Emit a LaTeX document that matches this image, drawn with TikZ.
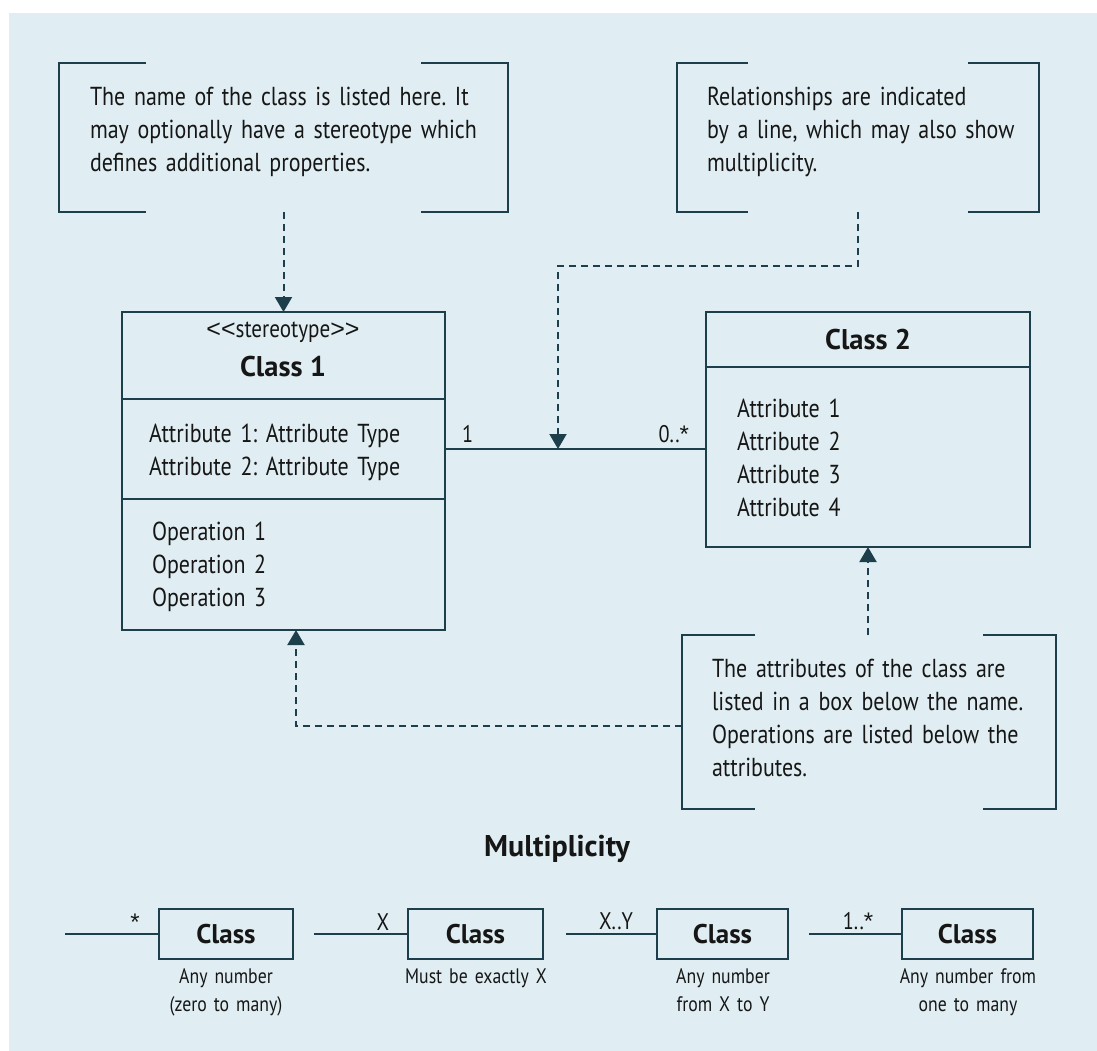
\documentclass[tikz,border=0pt]{standalone}
\usepackage{fontspec}
\setmainfont{PT Sans}[FakeStretch=0.845,BoldFeatures={FakeStretch=1.0}]
\newfontfamily\symfont{Liberation Sans}
\usetikzlibrary{arrows.meta,calc}
\definecolor{bg}{HTML}{E0EEF3}
\definecolor{ln}{HTML}{1C3F4B}
\definecolor{tx}{HTML}{161616}
\newcommand\myast{{\symfont *}}
\newcommand\mylt{{\symfont <}}
\newcommand\mygt{{\symfont >}}
\newcommand\mybrackets[2]{%
  \draw[brk] ($(#1.north west)+(#2,0)$) -- (#1.north west) -- (#1.south west) -- ($(#1.south west)+(#2,0)$);
  \draw[brk] ($(#1.north east)-(#2,0)$) -- (#1.north east) -- (#1.south east) -- ($(#1.south east)-(#2,0)$);}
\frenchspacing
\begin{document}
\begin{tikzpicture}[x=1bp,y=-1bp,
  every node/.style={inner sep=0pt,outer sep=0pt,text=tx},
  brk/.style={draw=ln,line width=2bp},
  clsbox/.style={draw=ln,line width=2.5bp},
  cl/.style={draw=ln,line width=2bp},
  dar/.style={draw=ln,line width=2bp,dash pattern=on 7bp off 5bp,-{Triangle[width=17bp,length=15bp]}},
  note/.style={draw=none},
  body/.style={font=\fontsize{26bp}{33bp}\selectfont,align=left,anchor=base west,text width=#1},
  title/.style={font=\bfseries\fontsize{28.5bp}{34bp}\selectfont,anchor=base},
  lbl/.style={font=\fontsize{24bp}{28bp}\selectfont},
  slbl/.style={font=\fontsize{24bp}{28bp}\selectfont,anchor=base},
  mbox/.style={draw=ln,line width=2.2bp,minimum height=50bp,font=\bfseries\fontsize{27bp}{30bp}\selectfont},
  capt/.style={font=\fontsize{21bp}{28bp}\selectfont,align=center,text width=200bp,anchor=base},
]
\fill[bg] (9,13) rectangle (1097,1051);
\useasboundingbox (0,0) rectangle (1097,1051);

% note boxes
\node[note,minimum width=449bp,minimum height=149bp] (n1) at (283.5,137.5) {};
\mybrackets{n1}{87}
\node[body=420bp] (t1) at (90,105) {The name of the class is listed here. It\\may optionally have a stereotype which\\defines additional properties.};

\node[note,minimum width=362bp,minimum height=149bp] (n2) at (858,137.5) {};
\mybrackets{n2}{71}
\node[body=330bp] (t2) at (707,105) {Relationships are indicated\\by a line, which may also show\\multiplicity.};

\node[note,minimum width=374bp,minimum height=174bp] (n3) at (869,722) {};
\mybrackets{n3}{73}
\node[body=340bp] (t3) at (712,677) {The attributes of the class are\\listed in a box below the name.\\Operations are listed below the\\attributes.};

% class 1
\node[clsbox,minimum width=323bp,minimum height=318bp] (c1) at (283.5,471) {};
\draw[cl] ($(c1.north west)+(0,87)$) -- ($(c1.north east)+(0,87)$);
\draw[cl] ($(c1.north west)+(0,187)$) -- ($(c1.north east)+(0,187)$);
\node[font=\fontsize{25bp}{30bp}\selectfont,anchor=base] (st) at (283,337) {\mylt\mylt stereotype\mygt\mygt};
\node[title] (c1t) at (283,376) {Class 1};
\node[body=300bp] (c1a) at (149,442) {Attribute 1: Attribute Type\\Attribute 2: Attribute Type};
\node[body=300bp] (c1o) at (152,540) {Operation 1\\Operation 2\\Operation 3};

% class 2
\node[clsbox,minimum width=324bp,minimum height=235bp] (c2) at (868,429.5) {};
\draw[cl] ($(c2.north west)+(0,55)$) -- ($(c2.north east)+(0,55)$);
\node[title] (c2t) at (868,349) {Class 2};
\node[body=250bp] (c2a) at (737,417) {Attribute 1\\Attribute 2\\Attribute 3\\Attribute 4};

% association
\coordinate (m) at (558,449);
\draw[cl] (c1.east |- m) -- (c2.west |- m);
\node[lbl,anchor=base west] (one) at (462,442) {1};
\node[lbl,anchor=base east] (zm) at (689,442) {0..\myast};

% dashed arrows
\draw[dar] (n1.south) -- (c1.north);
\coordinate (j2) at (558,266);
\draw[dar] (n2.south) |- (j2) -- (m);
\draw[dar] (c2.south |- n3.north) -- (c2.south);
\coordinate (j4) at (296,726);
\draw[dar] (n3.west |- j4) -- (j4) -- (j4 |- c1.south);

% multiplicity
\node[font=\bfseries\fontsize{30bp}{36bp}\selectfont,anchor=base] (mt) at (557,856) {Multiplicity};

\node[mbox,minimum width=134bp] (mb1) at (226,934) {Class};
\node[mbox,minimum width=135bp] (mb2) at (475.5,934) {Class};
\node[mbox,minimum width=131bp] (mb3) at (722.5,934) {Class};
\node[mbox,minimum width=131bp] (mb4) at (967.5,934) {Class};

\coordinate (l1) at (65,934);
\coordinate (l2) at (314,934);
\coordinate (l3) at (566,934);
\coordinate (l4) at (809,934);
\draw[cl] (l1) -- (mb1.west);
\draw[cl] (l2) -- (mb2.west);
\draw[cl] (l3) -- (mb3.west);
\draw[cl] (l4) -- (mb4.west);

\node[slbl] (s1) at (135,930) {\myast};
\node[slbl] (s2) at (383,930) {X};
\node[slbl] (s3) at (616,929) {X..Y};
\node[slbl] (s4) at (858,929) {1..\myast};

\node[capt] (cp1) at (226,983) {Any number\\(zero to many)};
\node[capt] (cp2) at (476,983) {Must be exactly X};
\node[capt] (cp3) at (723,983) {Any number\\from X to Y};
\node[capt] (cp4) at (968,983) {Any number from\\one to many};
\end{tikzpicture}
\end{document}
